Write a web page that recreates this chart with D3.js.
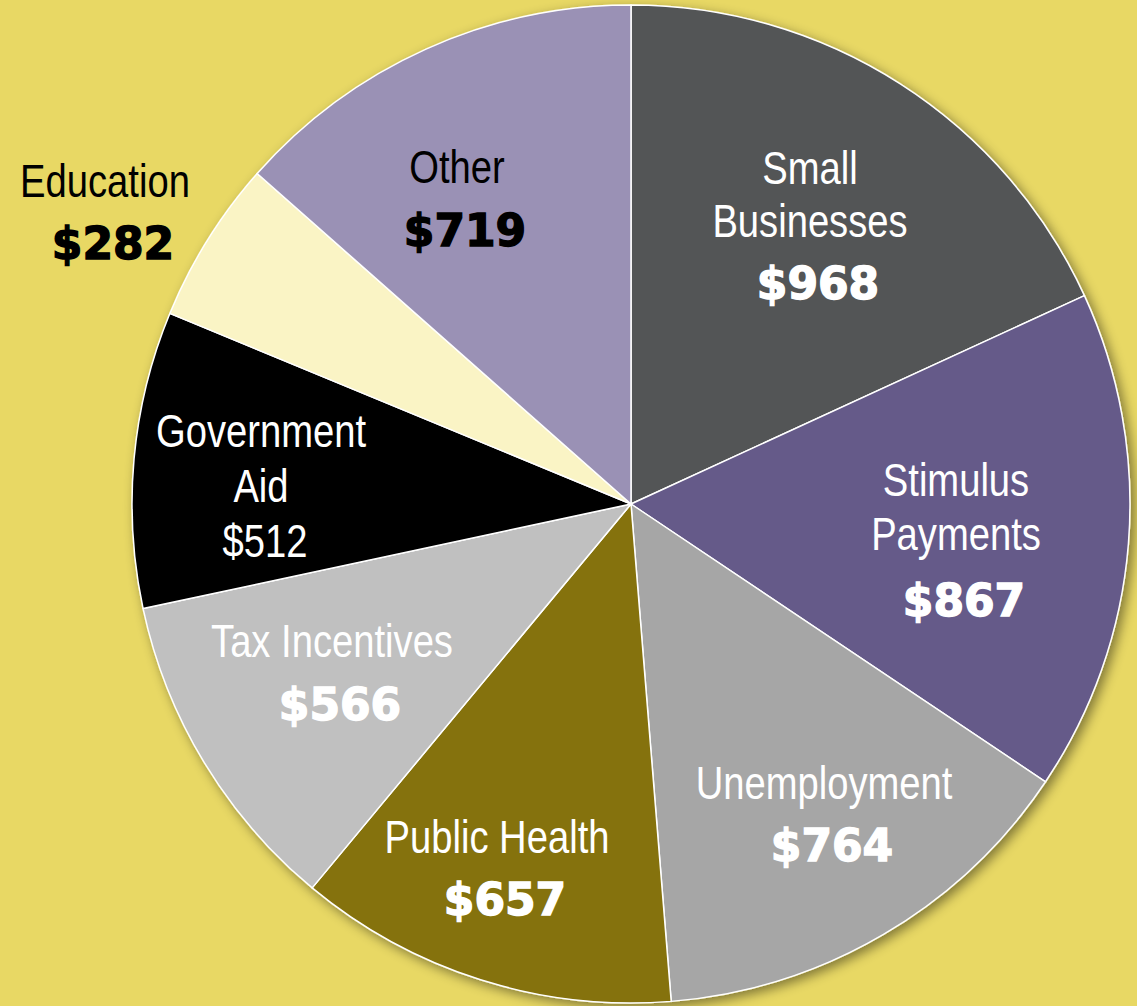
<!DOCTYPE html>
<html>
<head>
<meta charset="utf-8">
<script src="https://cdn.jsdelivr.net/npm/d3@7"></script>
<style>
  html, body { margin: 0; padding: 0; background: #e8d864; }
  .lbl { font-family: "Liberation Sans", Arial, sans-serif; font-size: 46px; }
  .val { font-family: "DejaVu Sans", sans-serif; font-weight: bold; font-size: 44px; stroke-width: 1.4px; }
</style>
</head>
<body>
<div id="plot"></div>
<script>
// slices, clockwise from 12 o'clock
const categories = ["Small Businesses", "Stimulus Payments", "Unemployment", "Public Health",
  "Tax Incentives", "Government Aid", "Education", "Other"];
const values = [968, 867, 764, 657, 566, 512, 282, 719];
const colors = ["#535456", "#655a89", "#a6a6a6", "#85720d", "#c0c0c0", "#000000", "#faf4c5", "#9a91b5"];

// label lines for each slice (text lines, then value)
const labelLines = [
  ["Small", "Businesses"],
  ["Stimulus", "Payments"],
  ["Unemployment"],
  ["Public Health"],
  ["Tax Incentives"],
  ["Government", "Aid"],
  ["Education"],
  ["Other"],
];
const valueLabels = values.map((v) => "$" + v);
const textColors = ["#fff", "#fff", "#fff", "#fff", "#fff", "#fff", "#000", "#000"];

const svgWidth = 1137;
const svgHeight = 1006;
const cx = 631, cy = 504, radius = 499;
const narrow = 0.83; // horizontal squeeze to mimic a narrow face

const svg = d3.select("div#plot")
  .append("svg")
  .attr("width", svgWidth)
  .attr("height", svgHeight);

svg.append("rect").attr("width", svgWidth).attr("height", svgHeight).attr("fill", "#e8d864");

const defs = svg.append("defs");
const filt = defs.append("filter").attr("id", "shadow")
  .attr("x", "-10%").attr("y", "-10%").attr("width", "120%").attr("height", "120%");
filt.append("feDropShadow")
  .attr("dx", 4).attr("dy", 4)
  .attr("stdDeviation", 6)
  .attr("flood-color", "#000")
  .attr("flood-opacity", 0.45);

const g = svg.append("g").attr("transform", "translate(" + cx + "," + cy + ")");

const pie = d3.pie().sort(null).value((d) => d);
const arcs = pie(values);
const arc = d3.arc().innerRadius(0).outerRadius(radius);

const pieG = g.append("g").attr("filter", "url(#shadow)");
pieG.selectAll("path")
  .data(arcs)
  .enter()
  .append("path")
  .attr("d", arc)
  .attr("fill", (d, i) => colors[i])
  .attr("stroke", "#fff")
  .attr("stroke-width", 1.5)
  .attr("stroke-linejoin", "round");

// label anchor points (absolute page coords): x centre, baselines per line, value x and baseline
const labelPos = [
  { x: 810, ys: [184, 237], vx: 818, vy: 299 },
  { x: 956, ys: [496, 550], vx: 964, vy: 616 },
  { x: 824, ys: [799], vx: 832, vy: 861 },
  { x: 497, ys: [853], vx: 505, vy: 915 },
  { x: 332, ys: [657], vx: 340, vy: 720 },
  { x: 261, ys: [447, 502], vx: 265, vy: 557 },
  { x: 105, ys: [197], vx: 113, vy: 259 },
  { x: 457, ys: [183], vx: 465, vy: 246 },
];

const labels = svg.append("g");
categories.forEach((c, i) => {
  const p = labelPos[i];
  labelLines[i].forEach((line, k) => {
    labels.append("text")
      .attr("class", "lbl")
      .attr("transform", "translate(" + p.x + "," + p.ys[k] + ") scale(" + narrow + ",1)")
      .attr("text-anchor", "middle")
      .attr("fill", textColors[i])
      .text(line);
  });
  // Government Aid value is set in the plain label font
  if (i === 5) {
    labels.append("text")
      .attr("class", "lbl")
      .attr("transform", "translate(" + p.vx + "," + p.vy + ") scale(" + narrow + ",1)")
      .attr("text-anchor", "middle")
      .attr("fill", textColors[i])
      .text(valueLabels[i]);
  } else {
    labels.append("text")
      .attr("class", "val")
      .attr("x", p.vx)
      .attr("y", p.vy)
      .attr("text-anchor", "middle")
      .attr("fill", textColors[i])
      .attr("stroke", textColors[i])
      .text(valueLabels[i]);
  }
});
</script>
</body>
</html>
